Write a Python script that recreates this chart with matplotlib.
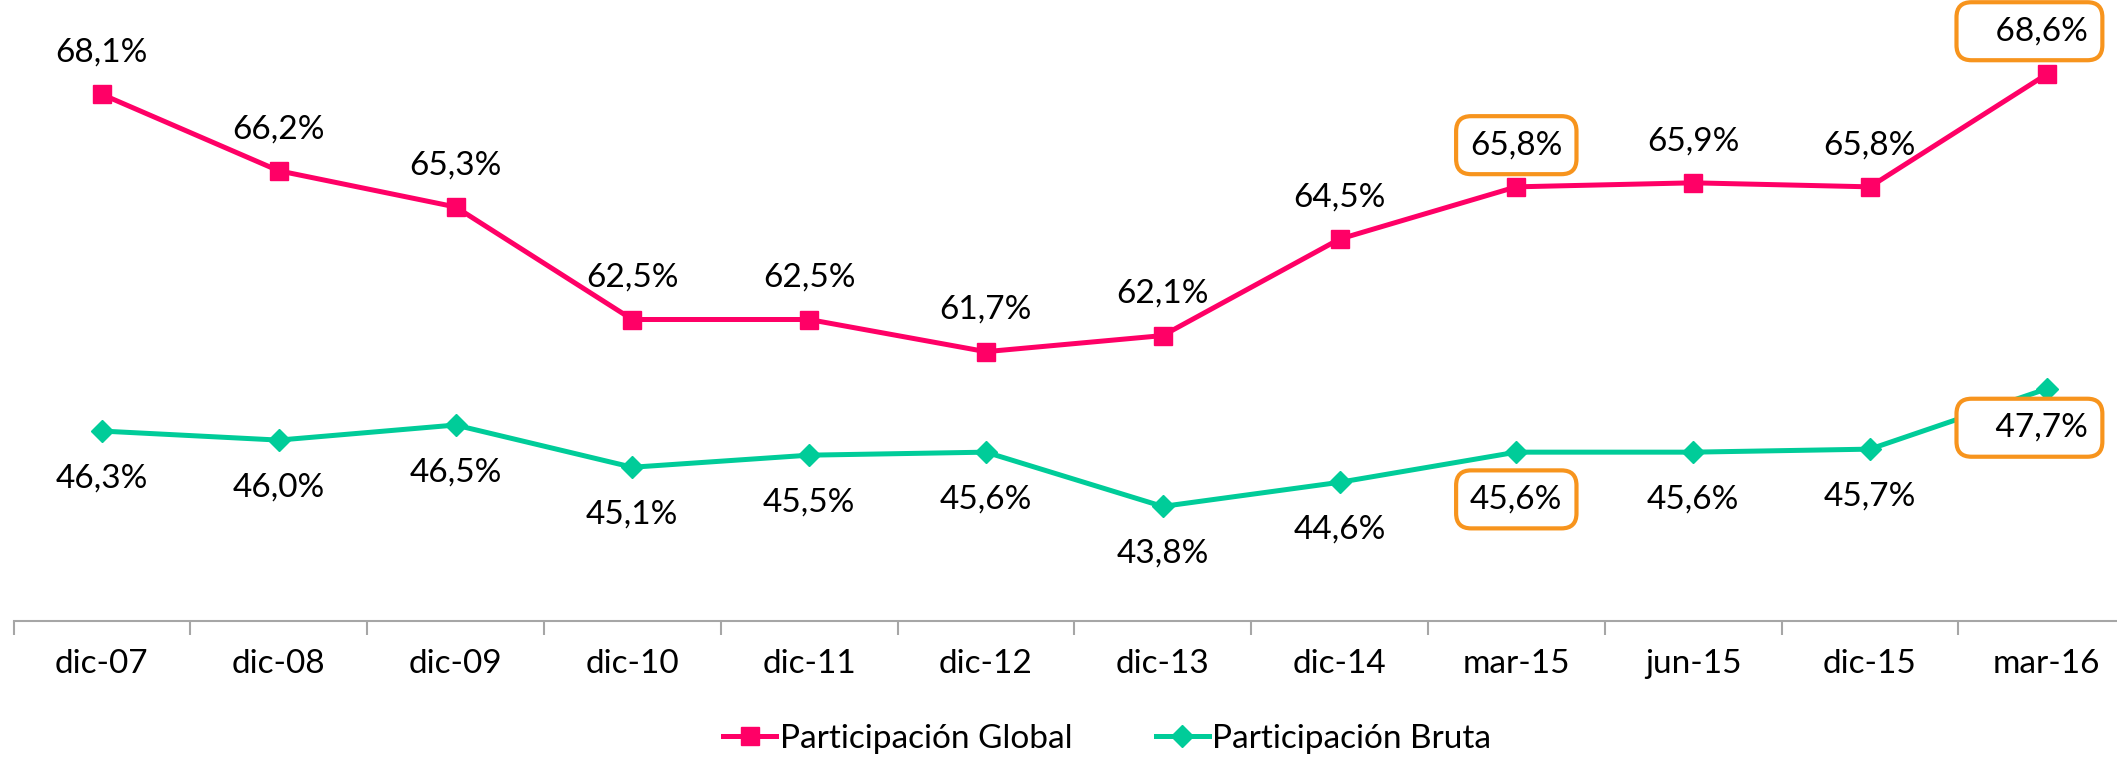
import matplotlib
matplotlib.use("Agg")
import matplotlib.pyplot as plt

# --- DATA ---
periodos = ["dic-07", "dic-08", "dic-09", "dic-10", "dic-11", "dic-12",
            "dic-13", "dic-14", "mar-15", "jun-15", "dic-15", "mar-16"]
global_vals = [68.1, 66.2, 65.3, 62.5, 62.5, 61.7, 62.1, 64.5, 65.8, 65.9, 65.8, 68.6]
bruta_vals = [46.3, 46.0, 46.5, 45.1, 45.5, 45.6, 43.8, 44.6, 45.6, 45.6, 45.7, 47.7]
destacados = ["mar-15", "mar-16"]

PINK = "#FF0066"
TEAL = "#00CC99"
ORANGE = "#F7941D"
plt.rcParams["font.family"] = ["Lato", "DejaVu Sans"]
FS = 24

fig = plt.figure(figsize=(21.17, 7.58), dpi=100)
ax = fig.add_axes([13.5 / 2117, 1 - 621 / 758, 12 * 176.8 / 2117, (621 - 18) / 758])
ax2 = ax.twinx()

x = list(range(len(periodos)))
l1, = ax.plot(x, global_vals, color=PINK, lw=3.6, marker="s", ms=13,
              label="Participación Global")
l2, = ax2.plot(x, bruta_vals, color=TEAL, lw=3.6, marker="D", ms=11,
               label="Participación Bruta")

ax.set_xlim(-0.5, len(periodos) - 0.5)
ax.set_ylim(55, 70)
ax2.set_ylim(40, 60)

def fmt(v):
    return f"{v:.1f}%".replace(".", ",")

box = dict(boxstyle="round,pad=0.42,rounding_size=0.45", fc="white", ec=ORANGE, lw=3)

for i, (p, g, b) in enumerate(zip(periodos, global_vals, bruta_vals)):
    bb = box if p in destacados else None
    if i == len(periodos) - 1:
        # last point: label pushed right inside a wider box
        ax.annotate("   " + fmt(g), (i, g), xytext=(30, 31), textcoords="offset points",
                    ha="right", va="center", fontsize=FS, bbox=bb, zorder=5)
        ax2.annotate("   " + fmt(b), (i, b), xytext=(30, -28), textcoords="offset points",
                     ha="right", va="center", fontsize=FS, bbox=bb, zorder=5)
        continue
    ax.annotate(fmt(g), (i, g), xytext=(0, 30), textcoords="offset points",
                ha="center", va="center", fontsize=FS, bbox=bb, zorder=5)
    ax2.annotate(fmt(b), (i, b), xytext=(0, -34), textcoords="offset points",
                 ha="center", va="center", fontsize=FS, bbox=bb, zorder=5)

# axis styling
for s in ["top", "left", "right"]:
    ax.spines[s].set_visible(False)
    ax2.spines[s].set_visible(False)
ax2.spines["bottom"].set_visible(False)
ax.spines["bottom"].set_color("#A6A6A6")
ax.spines["bottom"].set_linewidth(1.5)
ax.set_yticks([])
ax2.set_yticks([])
ax.set_xticks(x)
ax.set_xticklabels(periodos, fontsize=FS)
ax.tick_params(axis="x", which="major", length=0, pad=20)
ax.set_xticks([i - 0.5 for i in range(len(periodos) + 1)], minor=True)
ax.tick_params(axis="x", which="minor", length=10, width=1.5, color="#A6A6A6")

fig.legend([l1, l2], ["Participación Global", "Participación Bruta"],
           loc="center", bbox_to_anchor=(0.523, 0.025), ncol=2, frameon=False,
           fontsize=FS, handlelength=1.6, handletextpad=0.1, columnspacing=2.5)

fig.savefig("out.png", dpi=100)
